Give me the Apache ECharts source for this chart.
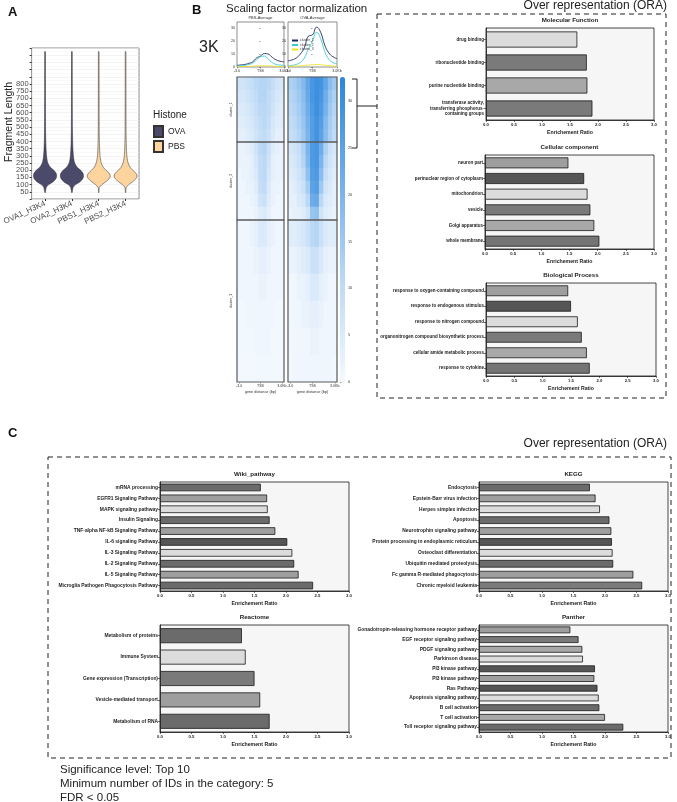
<!DOCTYPE html>
<html>
<head>
<meta charset="UTF-8">
<title>Fragment length, profiles and ORA</title>
<script src="https://cdn.jsdelivr.net/npm/echarts@6/dist/echarts.min.js"></script>
<style>
  html, body { margin: 0; padding: 0; background: #fff; }
  #main { width: 677px; height: 802px; }
</style>
</head>
<body>
<div id="main"></div>
<script>
var FONT = '"Liberation Sans", Arial, sans-serif';

// ---------- A: fragment length violins ----------
var violinSamples = ['OVA1_H3K4', 'OVA2_H3K4', 'PBS1_H3K4', 'PBS2_H3K4'];
var violinGroup = ['OVA', 'OVA', 'PBS', 'PBS'];
var violinLengths = [45, 60, 80, 100, 120, 140, 160, 180, 200, 220, 250, 290, 340, 400, 480, 600, 800, 1000, 1025];
var ovaDensity = [0, 0.03, 0.08, 0.3, 0.7, 0.93, 1.0, 0.95, 0.75, 0.45, 0.22, 0.12, 0.07, 0.04, 0.022, 0.014, 0.008, 0.004, 0];
var pbsDensity = [0, 0, 0.03, 0.25, 0.6, 0.88, 1.0, 0.88, 0.62, 0.38, 0.2, 0.1, 0.055, 0.03, 0.016, 0.01, 0.006, 0.003, 0];

// ---------- B: average profiles ----------
var profilePos = [-3, -2.5, -2, -1.5, -1, -0.5, 0, 0.5, 1, 1.5, 2, 2.5, 3];
var profileTickLabels = ['-3.0', 'TSS', '3.0Kb'];
var pbsCluster1 = [1.3, 1.6, 2, 2.8, 4, 7, 8.5, 10.5, 10, 7.5, 5.5, 4.5, 4];
var pbsCluster2 = [0.8, 1, 1.3, 2, 3, 5.5, 8, 8.5, 6, 3.5, 2, 1.5, 1.3];
var pbsCluster3 = [0.3, 0.3, 0.4, 0.5, 0.6, 0.8, 1, 1, 0.9, 0.7, 0.5, 0.4, 0.4];
var ovaCluster1 = [4.8, 5.5, 7, 10, 15, 24, 25, 31, 27, 17, 11, 8, 6.5];
var ovaCluster2 = [1, 1.3, 2, 3.5, 7, 14, 20, 27, 22, 12, 6, 3.5, 2.5];
var ovaCluster3 = [0.5, 0.6, 0.7, 0.9, 1.1, 1.5, 1.8, 2, 1.8, 1.4, 1, 0.8, 0.7];

// ---------- B: heatmaps (rows x 11 bins, -3kb .. +3kb) ----------
var heatTickLabels = ['-3.0', '', '', '', '', 'TSS', '', '', '', '', '3.0Kb'];
var pbsHeat1 = [
  [7, 7, 8, 9, 11, 12, 12, 11, 9, 7, 6],
  [6, 6, 7, 8, 10, 12, 12, 10, 8, 6, 5],
  [5, 5, 6, 7, 9, 11, 11, 10, 7, 5, 4],
  [4, 4, 5, 6, 8, 10, 11, 9, 6, 4, 4],
  [3, 3, 4, 5, 7, 9, 10, 8, 5, 3, 3]
];
var pbsHeat2 = [
  [2, 2, 3, 4, 7, 11, 12, 8, 4, 3, 2],
  [2, 2, 2, 3, 6, 10, 11, 7, 3, 2, 2],
  [1, 2, 2, 3, 5, 10, 11, 6, 3, 2, 2],
  [1, 1, 2, 2, 4, 9, 10, 5, 2, 2, 1],
  [1, 1, 1, 2, 3, 7, 8, 4, 2, 1, 1],
  [1, 1, 1, 1, 2, 4, 5, 3, 1, 1, 1]
];
var pbsHeat3 = [
  [1, 1, 1, 2, 3, 5, 5, 3, 2, 1, 1],
  [1, 1, 1, 1, 2, 3, 3, 2, 1, 1, 1],
  [1, 1, 1, 1, 1, 2, 2, 1, 1, 1, 1],
  [0.5, 0.5, 1, 1, 1, 1, 1, 1, 1, 0.5, 0.5],
  [0.5, 0.5, 0.5, 0.5, 1, 1, 1, 1, 0.5, 0.5, 0.5],
  [0.3, 0.3, 0.5, 0.5, 0.5, 0.5, 0.5, 0.5, 0.5, 0.3, 0.3]
];
var ovaHeat1 = [
  [13, 14, 16, 19, 24, 28, 30, 29, 24, 18, 15],
  [12, 13, 15, 18, 23, 28, 30, 28, 22, 16, 13],
  [11, 12, 14, 17, 22, 27, 30, 27, 21, 15, 12],
  [10, 11, 13, 16, 21, 26, 29, 26, 19, 14, 11],
  [9, 10, 12, 15, 20, 26, 29, 25, 18, 13, 10]
];
var ovaHeat2 = [
  [6, 7, 9, 13, 20, 27, 28, 22, 13, 8, 6],
  [5, 6, 8, 12, 19, 27, 28, 20, 11, 7, 5],
  [4, 5, 7, 10, 17, 26, 27, 18, 9, 6, 4],
  [3, 4, 6, 8, 14, 25, 26, 15, 7, 5, 3],
  [3, 3, 5, 6, 11, 22, 23, 11, 5, 4, 3],
  [2, 3, 3, 4, 7, 16, 17, 7, 4, 3, 2]
];
var ovaHeat3 = [
  [4, 4, 5, 6, 8, 11, 12, 8, 5, 4, 4],
  [2, 2, 3, 4, 5, 8, 8, 5, 3, 2, 2],
  [1, 1, 2, 2, 3, 5, 5, 3, 2, 1, 1],
  [1, 1, 1, 2, 2, 3, 3, 2, 1, 1, 1],
  [1, 1, 1, 1, 1, 2, 2, 1, 1, 1, 1],
  [0.5, 1, 1, 1, 1, 1, 1, 1, 1, 1, 0.5]
];

// ---------- ORA enrichment ratios ----------
var mfTerms = ['drug binding', 'ribonucleotide binding', 'purine nucleotide binding',
  'transferase activity,\ntransferring phosphorus-\ncontaining groups'];
var mfRatio = [1.63, 1.80, 1.81, 1.90];
var ccTerms = ['neuron part', 'perinuclear region of cytoplasm', 'mitochondrion', 'vesicle', 'Golgi apparatus', 'whole membrane'];
var ccRatio = [1.48, 1.76, 1.82, 1.87, 1.94, 2.03];
var bpTerms = ['response to oxygen-containing compound', 'response to endogenous stimulus', 'response to nitrogen compound',
  'organonitrogen compound biosynthetic process', 'cellular amide metabolic process', 'response to cytokine'];
var bpRatio = [1.45, 1.50, 1.62, 1.69, 1.78, 1.83];
var wikiTerms = ['mRNA processing', 'EGFR1 Signaling Pathway', 'MAPK signaling pathway', 'Insulin Signaling',
  'TNF-alpha NF-kB Signaling Pathway', 'IL-6 signaling Pathway', 'IL-3 Signaling Pathway', 'IL-2 Signaling Pathway',
  'IL-5 Signaling Pathway', 'Microglia Pathogen Phagocytosis Pathway'];
var wikiRatio = [1.60, 1.70, 1.71, 1.74, 1.83, 2.02, 2.10, 2.13, 2.20, 2.43];
var keggTerms = ['Endocytosis', 'Epstein-Barr virus infection', 'Herpes simplex infection', 'Apoptosis',
  'Neurotrophin signaling pathway', 'Protein processing in endoplasmic reticulum', 'Osteoclast differentiation',
  'Ubiquitin mediated proteolysis', 'Fc gamma R-mediated phagocytosis', 'Chronic myeloid leukemia'];
var keggRatio = [1.76, 1.85, 1.92, 2.07, 2.10, 2.11, 2.12, 2.13, 2.45, 2.59];
var reactomeTerms = ['Metabolism of proteins', 'Immune System', 'Gene expression (Transcription)',
  'Vesicle-mediated transport', 'Metabolism of RNA'];
var reactomeRatio = [1.30, 1.36, 1.50, 1.59, 1.74];
var pantherTerms = ['Gonadotropin-releasing hormone receptor pathway', 'EGF receptor signaling pathway',
  'PDGF signaling pathway', 'Parkinson disease', 'PI3 kinase pathway', 'PI3 kinase pathway', 'Ras Pathway',
  'Apoptosis signaling pathway', 'B cell activation', 'T cell activation', 'Toll receptor signaling pathway'];
var pantherRatio = [1.45, 1.58, 1.64, 1.65, 1.84, 1.83, 1.88, 1.90, 1.91, 2.00, 2.29];

// bar fills (GraphPad grey cycle)
var DK = '#6b6b6b', DD = '#555555', MD = '#9e9e9e', LT = '#dcdcdc', M2 = '#a8a8a8', D2 = '#7a7a7a';
var mfColors = [LT, D2, M2, D2];
var ccColors = [MD, DD, LT, D2, M2, '#747474'];
var bpColors = [MD, DD, LT, D2, M2, '#747474'];
var wikiColors = [DK, MD, LT, DK, MD, DD, LT, DK, MD, DK];
var keggColors = [DK, MD, LT, DK, MD, DD, LT, DK, MD, D2];
var reactomeColors = [DK, LT, D2, MD, DK];
var pantherColors = [MD, D2, M2, LT, DD, MD, DD, LT, DK, M2, DK];

var grids = [], xAxes = [], yAxes = [], series = [], graphics = [], heatSeries = [];

function txt(x, y, s, size, opt) {
  opt = opt || {};
  graphics.push({
    type: 'text', x: x, y: y, rotation: opt.rotation || 0, z: 20,
    style: {
      text: s, fill: opt.color || '#111', fontSize: size, fontFamily: FONT,
      fontWeight: opt.bold ? 'bold' : 'normal',
      align: opt.align || 'left', textAlign: opt.align || 'left',
      verticalAlign: 'top', textVerticalAlign: 'top'
    }
  });
}

// ---- violin grid ----
grids.push({ left: 29, top: 48, width: 110, height: 151, show: true, backgroundColor: '#fff', borderColor: '#8a8a8a', borderWidth: 1 });
xAxes.push({
  gridIndex: 0, type: 'category', data: violinSamples,
  axisLine: { show: false }, axisTick: { show: true, alignWithLabel: true, length: 2, lineStyle: { color: '#333' } },
  axisLabel: { rotate: 25, fontSize: 8, color: '#4d4d4d', margin: 4, interval: 0 },
  splitLine: { show: false }
});
yAxes.push({
  gridIndex: 0, type: 'value', min: 0, max: 1050, interval: 50,
  axisLine: { show: false }, axisTick: { show: true, length: 2, lineStyle: { color: '#333' } },
  axisLabel: { fontSize: 7.5, color: '#4d4d4d', margin: 3,
    formatter: function (v) { return (v >= 50 && v <= 800) ? String(v) : ''; } },
  splitLine: { show: true, lineStyle: { color: '#ebebeb', width: 0.6 } },
  minorTick: { show: false, splitNumber: 2 },
  minorSplitLine: { show: true, lineStyle: { color: '#f5f5f5', width: 0.5 } }
});

function violinSeries(name, color, density) {
  var data = [];
  violinGroup.forEach(function (g, i) { if (g === name) data.push([i, 160]); });
  return {
    type: 'custom', name: name, xAxisIndex: 0, yAxisIndex: 0, silent: true,
    itemStyle: { color: color, borderColor: '#333', borderWidth: 0.5 },
    data: data,
    renderItem: function (params, api) {
      var c = api.value(0);
      var half = api.size([1, 0])[0] * 0.42;
      var left = [], right = [];
      for (var k = 0; k < violinLengths.length; k++) {
        var p = api.coord([c, violinLengths[k]]);
        left.push([p[0] - density[k] * half - 0.3, p[1]]);
        right.unshift([p[0] + density[k] * half + 0.3, p[1]]);
      }
      return {
        type: 'polygon', shape: { points: left.concat(right), smooth: 0.25 },
        style: { fill: color, stroke: '#2b2b2b', lineWidth: 0.5 }
      };
    }
  };
}
series.push(violinSeries('OVA', '#4b4a6b', ovaDensity));
series.push(violinSeries('PBS', '#fdd49e', pbsDensity));

// ---- profile plots ----
var clusterColors = ['#1f2a5c', '#3cc9d6', '#f0e21f'];
function profileChart(title, box, lines) {
  var gi = grids.length;
  grids.push({ left: box[0], top: box[1], width: box[2], height: box[3], show: true, borderColor: '#444', borderWidth: 0.6 });
  xAxes.push({
    gridIndex: gi, type: 'value', min: -3, max: 3, interval: 3,
    axisLine: { show: false }, axisTick: { length: 1.5, lineStyle: { color: '#444', width: 0.5 } },
    axisLabel: { fontSize: 3.6, color: '#333', margin: 2, formatter: function (v) { return profileTickLabels[(v + 3) / 3]; } },
    splitLine: { show: false }
  });
  yAxes.push({
    gridIndex: gi, type: 'value', min: 0, max: 35, interval: 10,
    axisLine: { show: false }, axisTick: { show: true, length: 1.5, lineStyle: { color: '#444', width: 0.5 } },
    axisLabel: { fontSize: 3.6, color: '#333', margin: 2, showMaxLabel: false },
    splitLine: { show: false }
  });
  lines.forEach(function (arr, k) {
    series.push({
      type: 'line', name: 'cluster_' + (k + 1), xAxisIndex: gi, yAxisIndex: gi, smooth: true,
      symbol: 'none', silent: true, color: clusterColors[k],
      lineStyle: { width: 0.9, color: clusterColors[k] },
      data: profilePos.map(function (x, i) { return [x, arr[i]]; })
    });
  });
  txt(box[0] + box[2] / 2, box[1] - 6, title, 4, { align: 'center', color: '#333' });
}
profileChart('PBS-Average', [237, 22, 47, 45], [pbsCluster1, pbsCluster2, pbsCluster3]);
profileChart('OVA-Average', [288, 22, 49, 45], [ovaCluster1, ovaCluster2, ovaCluster3]);

// ---- heatmaps ----
function heatBlock(matrix, box, rowLabel, bottom) {
  var gi = grids.length;
  grids.push({ left: box[0], top: box[1], width: box[2], height: box[3] });
  xAxes.push({
    gridIndex: gi, type: 'category', data: heatTickLabels.map(function (s, i) { return i; }),
    axisLine: { show: false },
    axisTick: { show: bottom, alignWithLabel: true, length: 1.5, lineStyle: { color: '#444', width: 0.5 },
      interval: function (i) { return heatTickLabels[i] !== ''; } },
    axisLabel: { show: bottom, interval: 0, fontSize: 3.6, color: '#333', margin: 2,
      formatter: function (v, i) { return heatTickLabels[i]; } },
    name: bottom ? 'gene distance (bp)' : '', nameLocation: 'middle', nameGap: 8,
    nameTextStyle: { fontSize: 3.8, color: '#333' }
  });
  yAxes.push({
    gridIndex: gi, type: 'category', inverse: true, data: matrix.map(function (r, i) { return i; }),
    axisLine: { show: false }, axisTick: { show: false }, axisLabel: { show: false },
    name: rowLabel, nameLocation: 'middle', nameRotate: 90, nameGap: 4,
    nameTextStyle: { fontSize: 3.6, color: '#333' }
  });
  var data = [];
  matrix.forEach(function (row, r) { row.forEach(function (v, c) { data.push([c, r, v]); }); });
  series.push({ type: 'heatmap', xAxisIndex: gi, yAxisIndex: gi, data: data, silent: true });
  heatSeries.push(series.length - 1);
  graphics.push({ type: 'rect', z: 15, shape: { x: box[0], y: box[1], width: box[2], height: box[3] },
    style: { fill: 'none', stroke: '#5a5a5a', lineWidth: 1.2 } });
}
var heatRows = [[77, 65], [142, 78], [220, 162]];
[pbsHeat1, pbsHeat2, pbsHeat3].forEach(function (m, k) {
  heatBlock(m, [237, heatRows[k][0], 47, heatRows[k][1]], 'cluster_' + (k + 1), k === 2);
});
[ovaHeat1, ovaHeat2, ovaHeat3].forEach(function (m, k) {
  heatBlock(m, [288, heatRows[k][0], 49, heatRows[k][1]], '', k === 2);
});

// colour-bar tick axis
var cbi = grids.length;
grids.push({ left: 340, top: 77, width: 5, height: 305 });
xAxes.push({ gridIndex: cbi, type: 'value', show: false });
yAxes.push({
  gridIndex: cbi, type: 'value', min: 0, max: 32.6, interval: 5, position: 'right',
  axisLine: { show: false }, axisTick: { show: true, length: 1.5, lineStyle: { color: '#444', width: 0.5 } },
  axisLabel: { fontSize: 3.8, color: '#333', margin: 3, showMaxLabel: false }, splitLine: { show: false }
});

// ---- ORA bar charts ----
function barChart(title, box, terms, ratios, colors, labelSize) {
  var gi = grids.length;
  grids.push({ left: box[0], top: box[1], width: box[2], height: box[3], show: true,
    backgroundColor: '#f6f6f6', borderColor: '#1a1a1a', borderWidth: 0.8 });
  xAxes.push({
    gridIndex: gi, type: 'value', min: 0, max: 3, interval: 0.5,
    axisLine: { show: true, lineStyle: { color: '#1a1a1a', width: 0.8 } },
    axisTick: { show: true, length: 2, lineStyle: { color: '#1a1a1a', width: 0.6 } },
    splitLine: { show: false },
    axisLabel: { fontSize: 4.2, fontWeight: 'bold', color: '#222', margin: 3, formatter: function (v) { return v.toFixed(1); } },
    name: 'Enrichement Ratio', nameLocation: 'middle', nameGap: 10,
    nameTextStyle: { fontSize: 5.2, fontWeight: 'bold', color: '#222' }
  });
  yAxes.push({
    gridIndex: gi, type: 'category', inverse: true, data: terms,
    axisLine: { show: true, lineStyle: { color: '#1a1a1a', width: 0.8 } },
    axisTick: { show: true, alignWithLabel: true, length: 2, lineStyle: { color: '#1a1a1a', width: 0.6 } },
    axisLabel: { fontSize: labelSize, fontWeight: 'bold', color: '#222', margin: 2, interval: 0, lineHeight: labelSize + 1 }
  });
  series.push({
    type: 'bar', xAxisIndex: gi, yAxisIndex: gi, barCategoryGap: '30%', silent: true,
    itemStyle: { borderColor: '#1a1a1a', borderWidth: 0.8 },
    data: ratios.map(function (v, i) { return { value: v, itemStyle: { color: colors[i] } }; })
  });
  txt(box[0] + box[2] / 2, box[1] - 11, title, 6.2, { align: 'center', bold: true, color: '#222' });
}
barChart('Molecular Function', [486, 28, 168, 92], mfTerms, mfRatio, mfColors, 4.5);
barChart('Cellular component', [485, 155, 169, 94], ccTerms, ccRatio, ccColors, 4.5);
barChart('Biological Process', [486, 283, 170, 93], bpTerms, bpRatio, bpColors, 4.5);
barChart('Wiki_pathway', [160, 482, 189, 109], wikiTerms, wikiRatio, wikiColors, 4.9);
barChart('KEGG', [479, 482, 189, 109], keggTerms, keggRatio, keggColors, 4.9);
barChart('Reactome', [160, 625, 189, 107], reactomeTerms, reactomeRatio, reactomeColors, 4.9);
barChart('Panther', [479, 625, 189, 107], pantherTerms, pantherRatio, pantherColors, 4.9);

// ---- annotations ----
txt(8, 6, 'A', 13, { bold: true });
txt(192, 4, 'B', 13, { bold: true });
txt(8, 427, 'C', 13, { bold: true });
txt(226, 3, 'Scaling factor normalization', 11.5, { color: '#222' });
txt(199, 40, '3K', 16, { color: '#222' });
txt(4, 122, 'Fragment Length', 10.5, { rotation: Math.PI / 2, align: 'center', color: '#222' });
txt(153, 110, 'Histone', 10, { color: '#222' });
txt(667, 0, 'Over representation (ORA)', 12, { align: 'right', color: '#222' });
txt(667, 438, 'Over representation (ORA)', 12, { align: 'right', color: '#222' });
txt(60, 764, 'Significance level: Top 10', 11.5, { color: '#222' });
txt(60, 778, 'Minimum number of IDs in the category: 5', 11.5, { color: '#222' });
txt(60, 792, 'FDR < 0.05', 11.5, { color: '#222' });

graphics.push({ type: 'rect', z: 5, shape: { x: 377, y: 14, width: 289, height: 384 },
  style: { fill: 'none', stroke: '#222', lineWidth: 1, lineDash: [5, 4] } });
graphics.push({ type: 'rect', z: 5, shape: { x: 48, y: 457, width: 623, height: 301 },
  style: { fill: 'none', stroke: '#222', lineWidth: 1, lineDash: [5, 4] } });
graphics.push({ type: 'polyline', z: 5, shape: { points: [[352, 79], [357, 79], [357, 148], [352, 148]] },
  style: { fill: 'none', stroke: '#222', lineWidth: 1 } });
graphics.push({ type: 'line', z: 5, shape: { x1: 357, y1: 106, x2: 377, y2: 106 },
  style: { stroke: '#222', lineWidth: 1 } });

var chart = echarts.init(document.getElementById('main'), null, { renderer: 'canvas' });
chart.setOption({
  animation: false,
  textStyle: { fontFamily: FONT },
  grid: grids,
  xAxis: xAxes,
  yAxis: yAxes,
  series: series,
  legend: [
    { data: ['OVA', 'PBS'], left: 153, top: 125, orient: 'vertical', icon: 'rect', itemWidth: 9, itemHeight: 11,
      itemGap: 2, padding: 0, selectedMode: false, textStyle: { fontSize: 8.5, color: '#222' } },
    { data: ['cluster_1', 'cluster_2', 'cluster_3'], left: 292, top: 39, orient: 'vertical', itemWidth: 6, itemHeight: 2,
      itemGap: 1.5, padding: 0, selectedMode: false, icon: 'rect', textStyle: { fontSize: 3.4, color: '#333', padding: [0, 0, 0, -3] } }
  ],
  visualMap: {
    type: 'continuous', min: 0, max: 32.6, seriesIndex: heatSeries, left: 340, top: 77,
    itemWidth: 5, itemHeight: 305, calculable: false, padding: 0, text: ['', ''], textGap: 0,
    inRange: { color: ['#f4f9fe', '#bcd9f5', '#70aee9', '#2c86dc'] }
  },
  graphic: graphics
});
</script>
</body>
</html>
